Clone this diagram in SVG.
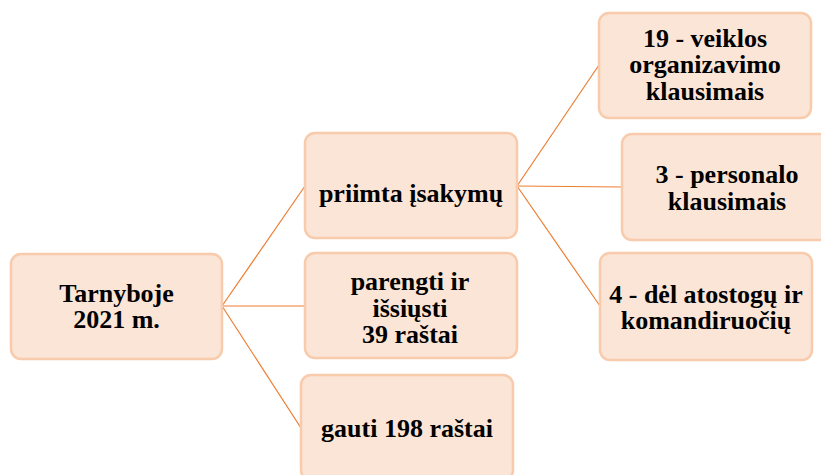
<svg xmlns="http://www.w3.org/2000/svg" width="821" height="475" viewBox="0 0 821 475">
<style>
.box{fill:#FBE5D6;stroke:#F8CBAD;stroke-width:2.5}
text{font-family:'Liberation Serif','Times New Roman',Times,serif;font-weight:bold;font-size:26px;fill:#000;text-anchor:middle}
.c{stroke:#ED7D31;stroke-width:1.2;fill:none}
</style>
<rect width="821" height="475" fill="#fff"/>
<g id="connectors">
<line class="c" x1="222" y1="306" x2="305" y2="186"/>
<line class="c" x1="222" y1="306" x2="305" y2="306"/>
<line class="c" x1="222" y1="306" x2="301" y2="428"/>
<line class="c" x1="517" y1="186" x2="599" y2="65"/>
<line class="c" x1="517" y1="186" x2="622" y2="187"/>
<line class="c" x1="517" y1="186" x2="600" y2="306"/>
</g>
<g id="n_tarnyboje">
<rect class="box" x="11" y="254" width="211" height="105" rx="10"/>
<text x="116.5" y="302">Tarnyboje</text>
<text x="116.5" y="328">2021 m.</text>
</g>
<g id="n_priimta">
<rect class="box" x="305" y="133" width="212" height="105" rx="10"/>
<text x="411" y="202">priimta įsakymų</text>
</g>
<g id="n_parengti">
<rect class="box" x="305" y="253" width="212" height="105" rx="10"/>
<text x="410" y="290">parengti ir</text>
<text x="410" y="317">išsiųsti</text>
<text x="410" y="343">39 raštai</text>
</g>
<g id="n_gauti">
<rect class="box" x="301" y="375" width="212" height="105" rx="10"/>
<text x="407" y="437">gauti 198 raštai</text>
</g>
<g id="n_veiklos">
<rect class="box" x="599" y="13" width="212" height="105" rx="10"/>
<text x="705" y="47">19 - veiklos</text>
<text x="705" y="73">organizavimo</text>
<text x="705" y="100">klausimais</text>
</g>
<g id="n_personalo">
<rect class="box" x="622" y="134" width="212" height="106" rx="10"/>
<text x="727" y="183">3 - personalo</text>
<text x="727" y="210">klausimais</text>
</g>
<g id="n_atostogu">
<rect class="box" x="600" y="253" width="212" height="107" rx="10"/>
<text x="706" y="303">4 - dėl atostogų ir</text>
<text x="706" y="329">komandiruočių</text>
</g>
</svg>
